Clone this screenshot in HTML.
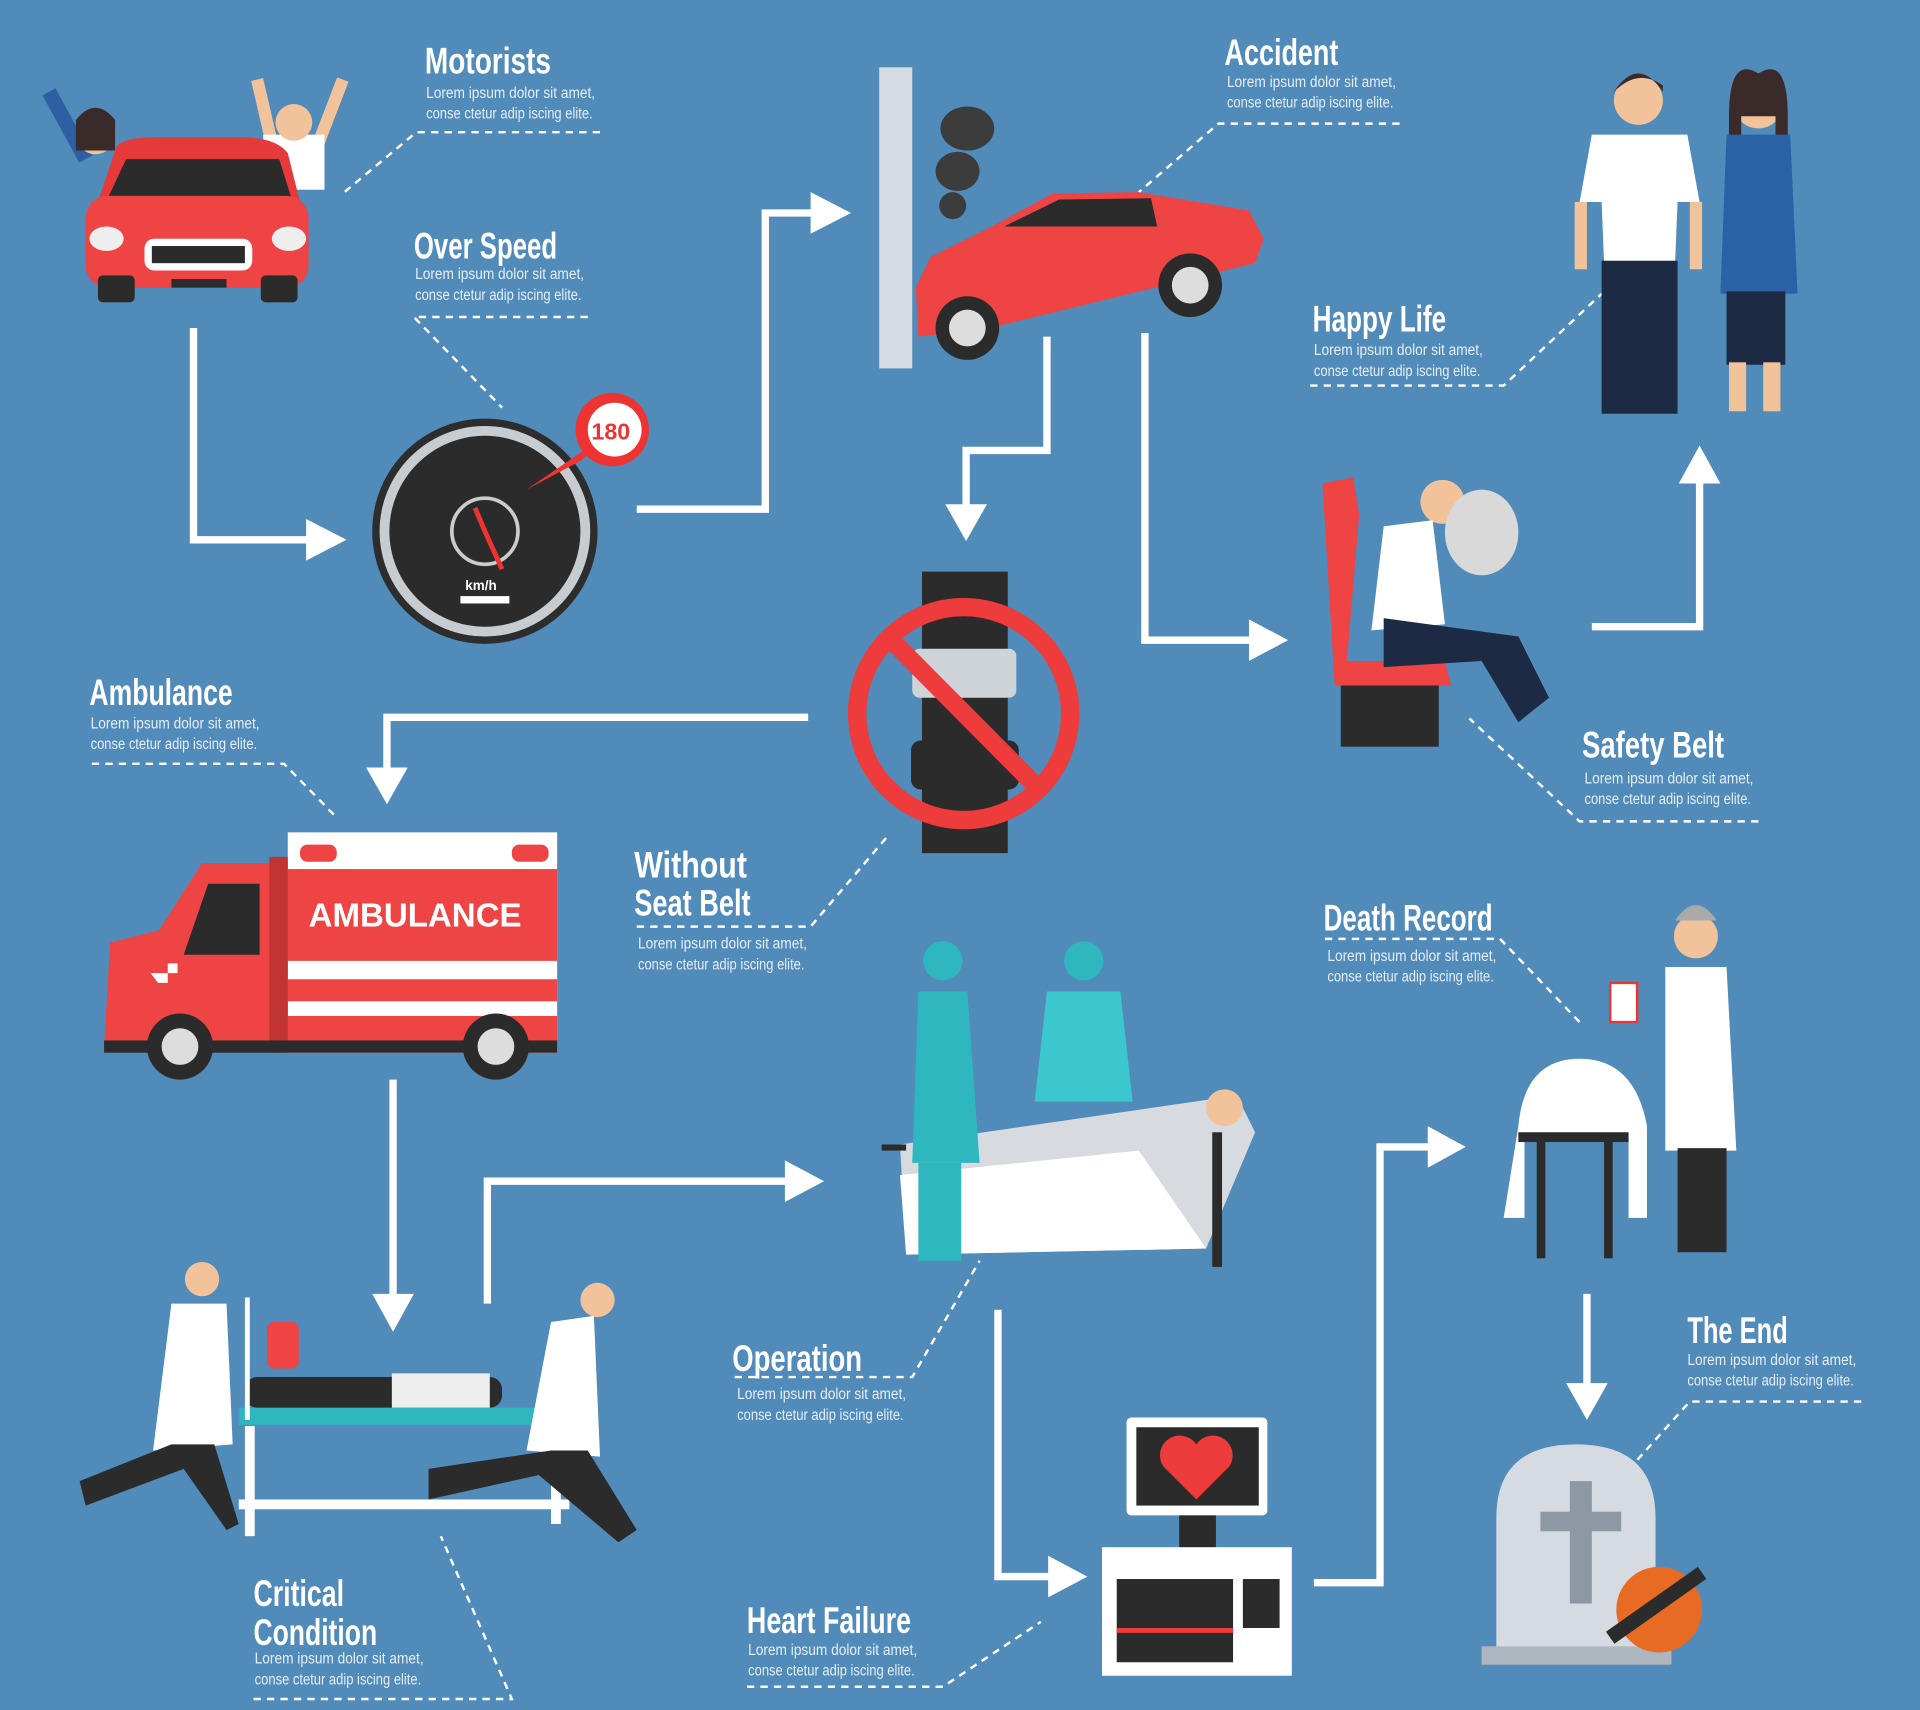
<!DOCTYPE html>
<html><head><meta charset="utf-8"><style>
html,body{margin:0;padding:0;background:#518bba;}
svg{display:block}
.t{font-family:"Liberation Sans",sans-serif;font-weight:bold;fill:#fff;font-size:30px}
.s{font-family:"Liberation Sans",sans-serif;fill:#e6eef6;font-size:12.5px}
.a{fill:none;stroke:#fff;stroke-width:6}
.d{fill:none;stroke:#fff;stroke-width:2;stroke-dasharray:6 5}
</style></head><body>
<svg width="1920" height="1710" viewBox="0 0 1568 1397" preserveAspectRatio="none" xmlns="http://www.w3.org/2000/svg">
<rect width="1568" height="1397" fill="#518bba"/>
<g>
<polyline class="a" points="158,268 158,441 255,441"/><polygon fill="#fff" points="250,424 283,441 250,458"/>
<polyline class="a" points="520,416 625,416 625,174 665,174"/><polygon fill="#fff" points="662,157 695,174 662,191"/>
<polyline class="a" points="855,275 855,368 789,368 789,415"/><polygon fill="#fff" points="772,412 789,442 806,412"/>
<polyline class="a" points="935,272 935,523 1025,523"/><polygon fill="#fff" points="1020,506 1052,523 1020,540"/>
<polyline class="a" points="1300,512 1388,512 1388,392"/><polygon fill="#fff" points="1371,395 1388,364 1405,395"/>
<polyline class="a" points="660,586 316,586 316,630"/><polygon fill="#fff" points="299,627 316,657 333,627"/>
<polyline class="a" points="321,882 321,1060"/><polygon fill="#fff" points="304,1057 321,1088 338,1057"/>
<polyline class="a" points="398,1065 398,965 645,965"/><polygon fill="#fff" points="641,948 673,965 641,982"/>
<polyline class="a" points="815,1070 815,1288 860,1288"/><polygon fill="#fff" points="856,1271 888,1288 856,1305"/>
<polyline class="a" points="1073,1293 1127,1293 1127,937 1170,937"/><polygon fill="#fff" points="1166,920 1197,937 1166,954"/>
<polyline class="a" points="1296,1057 1296,1133"/><polygon fill="#fff" points="1279,1130 1296,1160 1313,1130"/>
</g>
<g class="d">
<polyline points="490,108 340,108 280,158"/>
<polyline points="480,259 338,259 410,333"/>
<polyline points="1143,101 995,101 930,157"/>
<polyline points="1070,315 1228,315 1308,240"/>
<polyline points="1436,671 1290,671 1200,587"/>
<polyline points="75,624 232,624 275,668"/>
<polyline points="520,757 662,757 725,683"/>
<polyline points="1082,767 1225,767 1290,835"/>
<polyline points="600,1125 745,1125 800,1030"/>
<polyline points="1520,1145 1380,1145 1335,1195"/>
<polyline points="207,1388 418,1388 360,1255"/>
<polyline points="610,1378 770,1378 850,1325"/>
</g>
<g>
<text class="t" x="347" y="60" textLength="103" lengthAdjust="spacingAndGlyphs">Motorists</text><text class="s" x="348" y="80" textLength="138" lengthAdjust="spacingAndGlyphs">Lorem ipsum dolor sit amet,</text><text class="s" x="348" y="97" textLength="136" lengthAdjust="spacingAndGlyphs">conse ctetur adip iscing elite.</text>
<text class="t" x="338" y="211" textLength="117" lengthAdjust="spacingAndGlyphs">Over Speed</text><text class="s" x="339" y="228" textLength="138" lengthAdjust="spacingAndGlyphs">Lorem ipsum dolor sit amet,</text><text class="s" x="339" y="245" textLength="136" lengthAdjust="spacingAndGlyphs">conse ctetur adip iscing elite.</text>
<text class="t" x="1000" y="53" textLength="93" lengthAdjust="spacingAndGlyphs">Accident</text><text class="s" x="1002" y="71" textLength="138" lengthAdjust="spacingAndGlyphs">Lorem ipsum dolor sit amet,</text><text class="s" x="1002" y="88" textLength="136" lengthAdjust="spacingAndGlyphs">conse ctetur adip iscing elite.</text>
<text class="t" x="1072" y="271" textLength="109" lengthAdjust="spacingAndGlyphs">Happy Life</text><text class="s" x="1073" y="290" textLength="138" lengthAdjust="spacingAndGlyphs">Lorem ipsum dolor sit amet,</text><text class="s" x="1073" y="307" textLength="136" lengthAdjust="spacingAndGlyphs">conse ctetur adip iscing elite.</text>
<text class="t" x="1292" y="619" textLength="116" lengthAdjust="spacingAndGlyphs">Safety Belt</text><text class="s" x="1294" y="640" textLength="138" lengthAdjust="spacingAndGlyphs">Lorem ipsum dolor sit amet,</text><text class="s" x="1294" y="657" textLength="136" lengthAdjust="spacingAndGlyphs">conse ctetur adip iscing elite.</text>
<text class="t" x="73" y="576" textLength="117" lengthAdjust="spacingAndGlyphs">Ambulance</text><text class="s" x="74" y="595" textLength="138" lengthAdjust="spacingAndGlyphs">Lorem ipsum dolor sit amet,</text><text class="s" x="74" y="612" textLength="136" lengthAdjust="spacingAndGlyphs">conse ctetur adip iscing elite.</text>
<text class="t" x="518" y="717" textLength="92" lengthAdjust="spacingAndGlyphs">Without</text><text class="t" x="518" y="748" textLength="95" lengthAdjust="spacingAndGlyphs">Seat Belt</text><text class="s" x="521" y="775" textLength="138" lengthAdjust="spacingAndGlyphs">Lorem ipsum dolor sit amet,</text><text class="s" x="521" y="792" textLength="136" lengthAdjust="spacingAndGlyphs">conse ctetur adip iscing elite.</text>
<text class="t" x="1081" y="760" textLength="138" lengthAdjust="spacingAndGlyphs">Death Record</text><text class="s" x="1084" y="785" textLength="138" lengthAdjust="spacingAndGlyphs">Lorem ipsum dolor sit amet,</text><text class="s" x="1084" y="802" textLength="136" lengthAdjust="spacingAndGlyphs">conse ctetur adip iscing elite.</text>
<text class="t" x="598" y="1120" textLength="106" lengthAdjust="spacingAndGlyphs">Operation</text><text class="s" x="602" y="1143" textLength="138" lengthAdjust="spacingAndGlyphs">Lorem ipsum dolor sit amet,</text><text class="s" x="602" y="1160" textLength="136" lengthAdjust="spacingAndGlyphs">conse ctetur adip iscing elite.</text>
<text class="t" x="1378" y="1097" textLength="82" lengthAdjust="spacingAndGlyphs">The End</text><text class="s" x="1378" y="1115" textLength="138" lengthAdjust="spacingAndGlyphs">Lorem ipsum dolor sit amet,</text><text class="s" x="1378" y="1132" textLength="136" lengthAdjust="spacingAndGlyphs">conse ctetur adip iscing elite.</text>
<text class="t" x="207" y="1312" textLength="74" lengthAdjust="spacingAndGlyphs">Critical</text><text class="t" x="207" y="1344" textLength="101" lengthAdjust="spacingAndGlyphs">Condition</text><text class="s" x="208" y="1359" textLength="138" lengthAdjust="spacingAndGlyphs">Lorem ipsum dolor sit amet,</text><text class="s" x="208" y="1376" textLength="136" lengthAdjust="spacingAndGlyphs">conse ctetur adip iscing elite.</text>
<text class="t" x="610" y="1334" textLength="134" lengthAdjust="spacingAndGlyphs">Heart Failure</text><text class="s" x="611" y="1352" textLength="138" lengthAdjust="spacingAndGlyphs">Lorem ipsum dolor sit amet,</text><text class="s" x="611" y="1369" textLength="136" lengthAdjust="spacingAndGlyphs">conse ctetur adip iscing elite.</text>
</g>
<g>
<path d="M40,75 L70,130" stroke="#2d5fa3" stroke-width="12"/><circle cx="78" cy="110" r="16" fill="#f2c29a"/><path d="M62,98 q16,-20 32,0 v25 h-32z" fill="#3a2a2a"/>
<path d="M210,65 L225,130 M280,65 L255,130" stroke="#f2c29a" stroke-width="10"/><rect x="215" y="110" width="50" height="45" fill="#fff"/><circle cx="240" cy="100" r="15" fill="#f2c29a"/>
<path d="M95,120 Q100,112 130,112 L195,112 Q225,112 235,125 L245,165 L80,165 Z" fill="#e63a3a"/>
<path d="M103,130 L228,130 L238,162 L88,162 Z" fill="#2b2b2b"/>
<rect x="70" y="160" width="182" height="75" rx="18" fill="#ee4444"/>
<rect x="80" y="225" width="30" height="22" rx="4" fill="#2b2b2b"/><rect x="213" y="225" width="30" height="22" rx="4" fill="#2b2b2b"/>
<rect x="118" y="195" width="88" height="26" rx="8" fill="#fff"/><rect x="124" y="201" width="76" height="14" fill="#2b2b2b"/>
<ellipse cx="87" cy="195" rx="14" ry="10" fill="#eee"/><ellipse cx="236" cy="195" rx="14" ry="10" fill="#eee"/>
<rect x="140" y="228" width="45" height="7" fill="#2b2b2b"/>
</g>
<g>
<circle cx="396" cy="434" r="92" fill="#2d2d2d"/><circle cx="396" cy="434" r="86" fill="#c7ccd1"/><circle cx="396" cy="434" r="78" fill="#2b2b2b"/>
<circle cx="396" cy="434" r="27" fill="none" stroke="#ccc" stroke-width="3"/>
<line x1="396" y1="434" x2="410" y2="465" stroke="#e33" stroke-width="4"/><line x1="396" y1="434" x2="388" y2="415" stroke="#e33" stroke-width="4"/>
<text x="380" y="482" fill="#fff" font-family="Liberation Sans" font-weight="bold" font-size="11">km/h</text><rect x="376" y="487" width="40" height="6" fill="#fff"/>
<path d="M500,352 L430,400 L475,376 Z" fill="#e33"/><circle cx="500" cy="351" r="30" fill="#e33"/><circle cx="502" cy="351" r="22" fill="#fff"/>
<text x="483" y="359" fill="#e33" font-family="Liberation Sans" font-weight="bold" font-size="19">180</text>
</g>
<g>
<rect x="718" y="55" width="27" height="246" fill="#d6dbe1"/>
<ellipse cx="790" cy="105" rx="22" ry="18" fill="#3c3c3c"/><ellipse cx="782" cy="140" rx="18" ry="16" fill="#3c3c3c"/><ellipse cx="778" cy="168" rx="11" ry="11" fill="#3c3c3c"/>
<path d="M748,235 L760,210 L810,185 L860,158 L930,157 L1020,172 L1032,195 L1025,215 L800,270 L750,275 Z" fill="#ee4444"/>
<path d="M820,185 L865,163 L940,162 L945,185 Z" fill="#2b2b2b"/>
<circle cx="790" cy="268" r="26" fill="#2b2b2b"/><circle cx="790" cy="268" r="15" fill="#ddd"/>
<circle cx="972" cy="233" r="26" fill="#2b2b2b"/><circle cx="972" cy="233" r="15" fill="#ddd"/>
</g>
<g>
<circle cx="1338" cy="82" r="20" fill="#f2c29a"/><path d="M1318,75 q20,-30 40,0 v-5 q-20,-15 -40,5z" fill="#3a2a2a"/>
<path d="M1300,110 L1378,110 L1388,165 L1370,165 L1368,215 L1310,215 L1308,165 L1290,165 Z" fill="#fff"/>
<rect x="1308" y="213" width="62" height="125" fill="#1d2a44"/><rect x="1286" y="165" width="10" height="55" fill="#f2c29a"/><rect x="1380" y="165" width="10" height="55" fill="#f2c29a"/>
<circle cx="1436" cy="85" r="20" fill="#f2c29a"/><path d="M1412,95 q0,-50 24,-35 q24,-15 24,35 v30 h-10 v-30 h-28 v30 h-10z" fill="#3a2a2a"/>
<path d="M1410,110 L1462,110 L1468,240 L1405,240 Z" fill="#2b61a6"/><rect x="1410" y="238" width="48" height="60" fill="#1d2a44"/>
<rect x="1412" y="296" width="14" height="40" fill="#f2c29a"/><rect x="1440" y="296" width="14" height="40" fill="#f2c29a"/>
</g>
<g>
<rect x="753" y="467" width="70" height="230" fill="#2b2b2b"/><rect x="745" y="530" width="85" height="40" rx="6" fill="#cfd4d8"/>
<rect x="744" y="605" width="88" height="40" rx="8" fill="#2b2b2b"/>
<circle cx="787" cy="583" r="87" fill="none" stroke="#ee3b3b" stroke-width="15"/>
<line x1="725" y1="520" x2="850" y2="646" stroke="#ee3b3b" stroke-width="15"/>
</g>
<g>
<rect x="1095" y="560" width="80" height="50" fill="#2b2b2b"/>
<path d="M1080,395 L1105,390 L1110,420 L1100,540 L1180,540 L1185,560 L1090,560 Z" fill="#ee4444"/>
<circle cx="1178" cy="410" r="18" fill="#f2c29a"/><ellipse cx="1210" cy="435" rx="30" ry="35" fill="#d9d9d9"/>
<path d="M1130,430 L1170,425 L1180,510 L1120,515 Z" fill="#fff"/>
<path d="M1130,505 L1240,520 L1265,570 L1240,590 L1210,540 L1130,545 Z" fill="#1d2a44"/>
</g>
<g>
<rect x="235" y="680" width="220" height="180" fill="#fff"/>
<rect x="235" y="710" width="220" height="75" fill="#ee4444"/>
<text x="252" y="757" fill="#fff" font-family="Liberation Sans" font-weight="bold" font-size="27">AMBULANCE</text>
<rect x="235" y="800" width="220" height="18" fill="#ee4444"/><rect x="235" y="830" width="220" height="30" fill="#ee4444"/>
<rect x="245" y="690" width="30" height="14" rx="6" fill="#ee4444"/><rect x="418" y="690" width="30" height="14" rx="6" fill="#ee4444"/>
<path d="M235,705 L165,705 L130,760 L90,770 L85,855 L235,855 Z" fill="#ee4444"/>
<path d="M170,722 L212,722 L212,780 L150,780 Z" fill="#2b2b2b"/>
<rect x="220" y="700" width="15" height="160" fill="#c23333"/>
<rect x="85" y="850" width="370" height="10" fill="#2b2b2b"/>
<circle cx="147" cy="855" r="27" fill="#2b2b2b"/><circle cx="147" cy="855" r="15" fill="#ddd"/>
<circle cx="405" cy="855" r="27" fill="#2b2b2b"/><circle cx="405" cy="855" r="15" fill="#ddd"/>
<path d="M123,795 h14 v-8 h8 v8 h-8 v8 h-8z" fill="#fff"/>
</g>
<g>
<rect x="195" y="1150" width="255" height="14" fill="#2fb7c0"/>
<rect x="200" y="1125" width="210" height="25" rx="10" fill="#2b2b2b"/><rect x="320" y="1122" width="80" height="28" fill="#eee"/>
<rect x="195" y="1225" width="270" height="8" fill="#fff"/><rect x="200" y="1165" width="8" height="90" fill="#fff"/><rect x="450" y="1165" width="8" height="80" fill="#fff"/>
<rect x="200" y="1060" width="4" height="100" fill="#fff"/><rect x="218" y="1080" width="26" height="38" rx="6" fill="#ee4444"/>
<circle cx="165" cy="1045" r="14" fill="#f2c29a"/><path d="M140,1065 L185,1065 L190,1180 L125,1185 Z" fill="#fff"/>
<path d="M140,1180 L65,1210 L70,1230 L150,1200 L185,1250 L195,1245 L175,1180 Z" fill="#2b2b2b"/>
<circle cx="488" cy="1062" r="14" fill="#f2c29a"/><path d="M450,1080 L485,1075 L490,1190 L430,1185 Z" fill="#fff"/>
<path d="M450,1185 L350,1200 L350,1225 L440,1205 L505,1260 L520,1250 L480,1185 Z" fill="#2b2b2b"/>
</g>
<g>
<path d="M735,935 L1010,895 L1025,925 L985,1020 L740,1025 Z" fill="#d7dbe0"/>
<path d="M735,960 L930,940 L985,1020 L740,1025 Z" fill="#fff"/>
<rect x="720" y="935" width="20" height="5" fill="#2b2b2b"/><rect x="990" y="925" width="8" height="110" fill="#2b2b2b"/>
<circle cx="1000" cy="905" r="15" fill="#f2c29a"/>
<circle cx="770" cy="785" r="16" fill="#2fb7c0"/><path d="M750,810 L790,810 L800,950 L745,950 Z" fill="#2fb7c0"/><rect x="750" y="950" width="35" height="80" fill="#2fb7c0"/>
<circle cx="885" cy="785" r="16" fill="#2fb7c0"/><path d="M855,810 L915,810 L925,900 L845,900 Z" fill="#3cc6cd"/>
</g>
<g>
<rect x="920" y="1158" width="115" height="80" rx="4" fill="#fff"/><rect x="928" y="1166" width="100" height="64" fill="#2b2b2b"/>
<path d="M977,1225 L950,1198 A13,13 0 0 1 977,1180 A13,13 0 0 1 1004,1198 Z" fill="#ee3b3b"/>
<rect x="963" y="1238" width="30" height="28" fill="#2b2b2b"/>
<rect x="900" y="1264" width="155" height="105" fill="#fff"/><rect x="912" y="1290" width="95" height="68" fill="#2b2b2b"/>
<rect x="912" y="1330" width="95" height="4" fill="#ee3b3b"/><rect x="1015" y="1290" width="30" height="40" fill="#2b2b2b"/>
</g>
<g>
<circle cx="1385" cy="765" r="18" fill="#f2c29a"/><path d="M1368,752 q17,-25 34,0z" fill="#aaa"/>
<path d="M1360,790 L1410,790 L1418,940 L1360,940 Z" fill="#fff"/><rect x="1370" y="938" width="40" height="85" fill="#2b2b2b"/>
<rect x="1315" y="803" width="22" height="32" fill="#fff" stroke="#e33" stroke-width="2"/>
<path d="M1240,920 Q1245,865 1290,865 Q1335,865 1345,920 L1345,995 L1330,995 L1330,930 L1245,930 L1245,995 L1228,995 Z" fill="#fff"/>
<rect x="1240" y="925" width="90" height="8" fill="#2b2b2b"/><rect x="1255" y="930" width="7" height="98" fill="#2b2b2b"/><rect x="1310" y="930" width="7" height="98" fill="#2b2b2b"/>
</g>
<g>
<path d="M1222,1350 L1222,1240 Q1222,1180 1287,1180 Q1352,1180 1352,1240 L1352,1350 Z" fill="#d6dbe1"/>
<rect x="1210" y="1345" width="155" height="15" fill="#aeb6bf"/>
<rect x="1282" y="1210" width="18" height="100" fill="#8d98a4"/><rect x="1258" y="1235" width="66" height="16" fill="#8d98a4"/>
<circle cx="1355" cy="1315" r="35" fill="#e76b22"/><line x1="1315" y1="1338" x2="1390" y2="1285" stroke="#2b2b2b" stroke-width="12"/>
</g>
</svg>
</body></html>
